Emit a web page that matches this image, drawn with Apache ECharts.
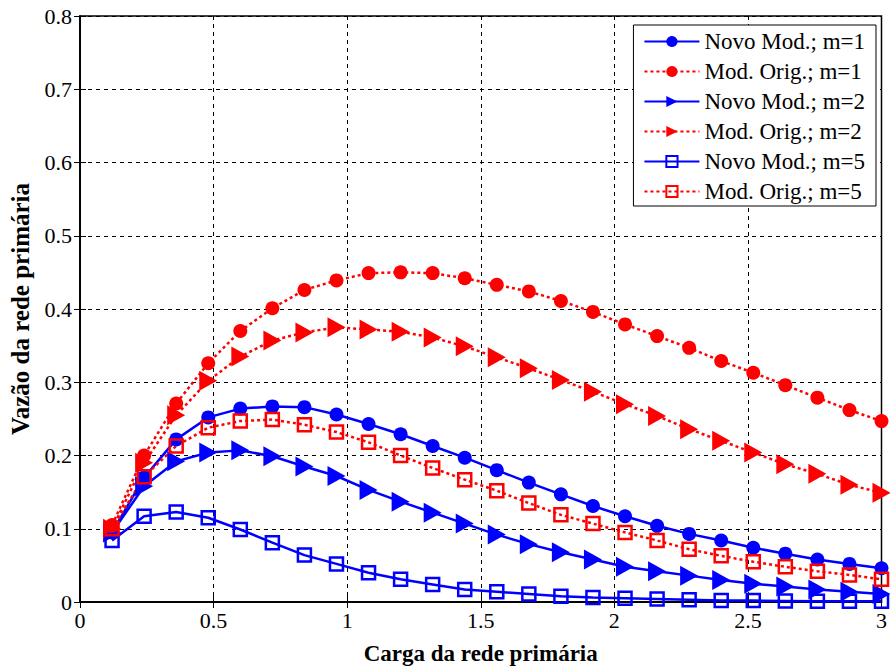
<!DOCTYPE html>
<html>
<head>
<meta charset="utf-8">
<script src="https://cdn.jsdelivr.net/npm/echarts@6/dist/echarts.min.js"></script>
<style>
  html, body { margin: 0; padding: 0; background: #fff; }
  #chart { width: 890px; height: 672px; }
</style>
</head>
<body>
<div id="chart"></div>
<script>
var carga = [0.12, 0.24, 0.36, 0.48, 0.60, 0.72, 0.84, 0.96, 1.08, 1.20, 1.32, 1.44, 1.56,
             1.68, 1.80, 1.92, 2.04, 2.16, 2.28, 2.40, 2.52, 2.64, 2.76, 2.88, 3.00];

var novoM1 = [0.095, 0.170, 0.222, 0.252, 0.264, 0.267, 0.266, 0.256, 0.243, 0.229, 0.213, 0.197, 0.180,
              0.163, 0.147, 0.131, 0.117, 0.104, 0.093, 0.084, 0.074, 0.066, 0.058, 0.052, 0.046];
var origM1 = [0.105, 0.200, 0.271, 0.326, 0.370, 0.401, 0.426, 0.439, 0.449, 0.450, 0.449, 0.442, 0.433,
              0.424, 0.411, 0.396, 0.379, 0.363, 0.347, 0.329, 0.313, 0.296, 0.279, 0.262, 0.247];
var novoM2 = [0.095, 0.158, 0.192, 0.204, 0.207, 0.199, 0.185, 0.172, 0.153, 0.137, 0.122, 0.107, 0.092,
              0.079, 0.068, 0.058, 0.048, 0.042, 0.036, 0.030, 0.025, 0.021, 0.017, 0.014, 0.011];
var origM2 = [0.100, 0.190, 0.255, 0.302, 0.335, 0.357, 0.368, 0.375, 0.372, 0.369, 0.361, 0.349, 0.334,
              0.319, 0.303, 0.287, 0.270, 0.254, 0.236, 0.220, 0.204, 0.188, 0.175, 0.160, 0.149];
var novoM5 = [0.084, 0.117, 0.123, 0.115, 0.099, 0.081, 0.064, 0.052, 0.040, 0.031, 0.024, 0.017, 0.014,
              0.011, 0.008, 0.006, 0.005, 0.004, 0.003, 0.002, 0.002, 0.0015, 0.001, 0.001, 0.001];
var origM5 = [0.100, 0.171, 0.213, 0.238, 0.247, 0.249, 0.242, 0.232, 0.218, 0.200, 0.183, 0.167, 0.152,
              0.135, 0.119, 0.107, 0.095, 0.084, 0.072, 0.063, 0.055, 0.048, 0.042, 0.037, 0.031];

var seriesNames = ['Novo Mod.; m=1', 'Mod. Orig.; m=1', 'Novo Mod.; m=2',
                   'Mod. Orig.; m=2', 'Novo Mod.; m=5', 'Mod. Orig.; m=5'];

var blue = '#0000ff';
var red = '#ff0000';
var font = 'Liberation Serif';

function pairs(ys) {
  return carga.map(function(x, i) { return [x, ys[i]]; });
}

function makeSeries(name, ys, color, dotted, shape) {
  var s = {
    name: name,
    type: 'line',
    data: pairs(ys),
    showAllSymbol: true,
    lineStyle: { color: color, width: 2.5, type: dotted ? [3, 3] : 'solid' },
    itemStyle: { color: color },
    emphasis: { disabled: true }
  };
  if (shape === 'circle') {
    s.symbol = 'circle';
    s.symbolSize = 14;
  } else if (shape === 'triangle') {
    s.symbol = 'triangle';
    s.symbolSize = [20, 18];
    s.symbolRotate = -90;
  } else {
    s.symbol = 'rect';
    s.symbolSize = 13;
    s.itemStyle = { color: 'rgba(255,255,255,0)', borderColor: color, borderWidth: 2.5 };
  }
  return s;
}

var chart = echarts.init(document.getElementById('chart'), null, { renderer: 'svg' });

var gridLine = { show: true, lineStyle: { color: '#000', type: [4, 4], width: 1 } };

chart.setOption({
  animation: false,
  backgroundColor: '#fff',
  textStyle: { fontFamily: font },
  grid: { left: 80, top: 16, right: 6, bottom: 70, show: true, borderColor: '#000', borderWidth: 1.5 },
  legend: {
    orient: 'vertical',
    right: 14,
    top: 25,
    backgroundColor: '#fff',
    borderColor: '#000',
    borderWidth: 1,
    padding: [5, 11, 3, 10],
    itemWidth: 55,
    itemHeight: 14,
    itemGap: 7,
    textStyle: { fontFamily: font, fontSize: 23, color: '#000' },
    data: seriesNames
  },
  xAxis: [{
    type: 'value',
    min: 0, max: 3, interval: 0.5,
    name: 'Carga da rede primária',
    nameLocation: 'middle',
    nameGap: 40,
    nameTextStyle: { fontFamily: font, fontSize: 23, fontWeight: 'bold', color: '#000' },
    axisLine: { show: true, onZero: false, lineStyle: { color: '#000', width: 1.5 } },
    axisTick: { show: true, inside: true, length: 6, lineStyle: { color: '#000' } },
    axisLabel: { color: '#000', fontSize: 22, fontFamily: font, margin: 7 },
    splitLine: gridLine
  }, {
    type: 'value',
    position: 'top',
    min: 0, max: 3, interval: 0.5,
    axisLine: { show: true, lineStyle: { color: '#000', width: 1.5 } },
    axisTick: { show: true, inside: true, length: 6, lineStyle: { color: '#000' } },
    axisLabel: { show: false },
    splitLine: { show: false }
  }],
  yAxis: [{
    type: 'value',
    min: 0, max: 0.8, interval: 0.1,
    name: 'Vazão da rede primária',
    nameLocation: 'middle',
    nameGap: 47,
    nameTextStyle: { fontFamily: font, fontSize: 25, fontWeight: 'bold', color: '#000' },
    axisLine: { show: true, lineStyle: { color: '#000', width: 1.5 } },
    axisTick: { show: true, inside: true, length: 6, lineStyle: { color: '#000' } },
    axisLabel: { color: '#000', fontSize: 22, fontFamily: font, margin: 8 },
    splitLine: gridLine
  }, {
    type: 'value',
    position: 'right',
    min: 0, max: 0.8, interval: 0.1,
    axisLine: { show: true, lineStyle: { color: '#000', width: 1.5 } },
    axisTick: { show: true, inside: true, length: 6, lineStyle: { color: '#000' } },
    axisLabel: { show: false },
    splitLine: { show: false }
  }],
  series: [
    makeSeries(seriesNames[0], novoM1, blue, false, 'circle'),
    makeSeries(seriesNames[1], origM1, red, true, 'circle'),
    makeSeries(seriesNames[2], novoM2, blue, false, 'triangle'),
    makeSeries(seriesNames[3], origM2, red, true, 'triangle'),
    makeSeries(seriesNames[4], novoM5, blue, false, 'rect'),
    makeSeries(seriesNames[5], origM5, red, true, 'rect')
  ]
});
</script>
</body>
</html>
